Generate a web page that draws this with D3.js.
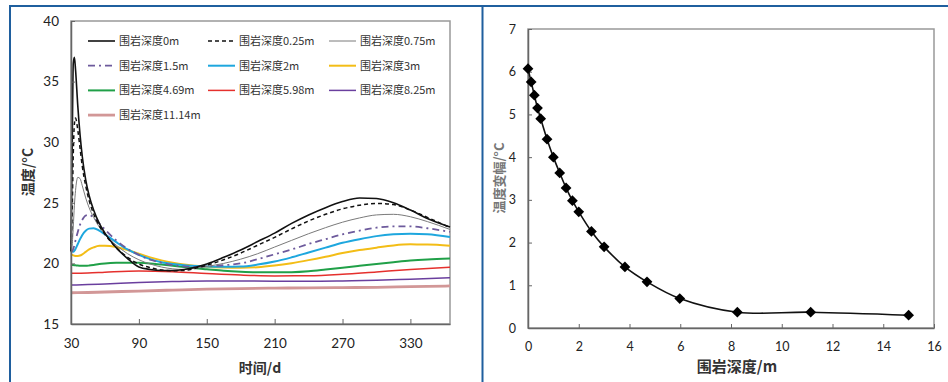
<!DOCTYPE html>
<html>
<head>
<meta charset="utf-8">
<script src="https://cdn.jsdelivr.net/npm/d3@7"></script>
<style>
  body { margin: 0; background: #fff; }
  svg { display: block; }
  .tick text { font-family: Lato, "Noto Sans", sans-serif; fill: #222; }
  .title { font-family: "Noto Sans CJK SC", sans-serif; font-weight: bold; }
  .legend text { font-family: "Noto Sans CJK SC", sans-serif; fill: #333; }
</style>
</head>
<body>
<div id="chart"></div>
<script>
// left chart: temperature vs time for each depth
const days = [30, 31, 32, 33, 34, 36, 38, 40, 43, 46, 50, 55, 60, 70, 80, 90, 100, 110, 120,
  130, 140, 150, 165, 180, 195, 210, 225, 240, 255, 270, 285, 300, 315, 330, 345, 365];
const t0 = [21.0, 29.0, 36.5, 37.0, 36.0, 33.0, 30.6, 28.8, 26.9, 25.6, 24.4, 23.3, 22.5, 21.3, 20.4,
  19.7, 19.5, 19.42, 19.42, 19.5, 19.68, 19.95, 20.5, 21.1, 21.8, 22.5, 23.3, 24.0, 24.6, 25.1,
  25.4, 25.35, 25.0, 24.4, 23.7, 23.0];
const t025 = [21.0, 24.0, 29.0, 31.5, 32.0, 31.0, 29.5, 28.0, 26.4, 25.2, 24.1, 23.1, 22.4, 21.3, 20.5,
  19.95, 19.65, 19.45, 19.4, 19.42, 19.6, 19.85, 20.3, 20.85, 21.5, 22.15, 22.85, 23.5, 24.05, 24.5,
  24.8, 24.95, 24.85, 24.4, 23.8, 22.95];
const t075 = [21.0, 21.5, 23.0, 24.8, 26.0, 27.1, 27.0, 26.4, 25.4, 24.6, 23.8, 23.0, 22.4, 21.5, 20.8,
  20.3, 19.95, 19.7, 19.55, 19.5, 19.6, 19.75, 20.0, 20.35, 20.8, 21.35, 21.9, 22.45, 22.95, 23.4,
  23.75, 24.0, 24.05, 23.85, 23.45, 22.8];
const t15 = [21.0, 21.0, 21.2, 21.5, 21.9, 22.6, 23.2, 23.6, 23.95, 24.0, 23.8, 23.3, 22.8, 21.9, 21.2,
  20.7, 20.3, 20.05, 19.85, 19.75, 19.72, 19.78, 19.85, 20.0, 20.35, 20.75, 21.15, 21.6, 22.0, 22.4,
  22.7, 22.95, 23.05, 23.05, 22.9, 22.6];
const t2 = [21.05, 20.98, 20.97, 21.05, 21.2, 21.6, 22.0, 22.35, 22.7, 22.87, 22.9, 22.7, 22.4, 21.75, 21.15,
  20.7, 20.35, 20.1, 19.95, 19.85, 19.78, 19.74, 19.72, 19.74, 19.9, 20.15, 20.5, 20.9, 21.3, 21.7,
  22.0, 22.25, 22.4, 22.45, 22.4, 22.18];
const t3 = [20.75, 20.7, 20.66, 20.63, 20.62, 20.62, 20.65, 20.75, 20.95, 21.15, 21.32, 21.45, 21.46, 21.35, 21.1,
  20.8, 20.5, 20.25, 20.05, 19.9, 19.8, 19.72, 19.66, 19.64, 19.68, 19.82, 20.02, 20.27, 20.55, 20.85,
  21.1, 21.3, 21.48, 21.57, 21.56, 21.46];
const t469 = [19.9, 19.88, 19.86, 19.85, 19.84, 19.82, 19.81, 19.8, 19.8, 19.82, 19.87, 19.95, 20.0, 20.05, 20.06,
  20.05, 20.0, 19.9, 19.8, 19.7, 19.6, 19.52, 19.4, 19.32, 19.27, 19.26, 19.28, 19.36, 19.5, 19.65,
  19.8, 19.95, 20.1, 20.24, 20.33, 20.4];
const daysDeep = [30, 45, 60, 90, 120, 150, 180, 210, 240, 270, 300, 330, 365];
const t598 = [19.18, 19.2, 19.27, 19.38, 19.32, 19.17, 19.04, 18.97, 18.98, 19.1, 19.3, 19.5, 19.68];
const t825 = [18.22, 18.25, 18.3, 18.42, 18.5, 18.55, 18.55, 18.53, 18.52, 18.55, 18.6, 18.7, 18.82];
const t1114 = [17.58, 17.6, 17.64, 17.72, 17.8, 17.87, 17.92, 17.96, 17.98, 18.0, 18.03, 18.08, 18.14];
const seriesNames = ["围岩深度0m", "围岩深度0.25m", "围岩深度0.75m", "围岩深度1.5m", "围岩深度2m",
  "围岩深度3m", "围岩深度4.69m", "围岩深度5.98m", "围岩深度8.25m", "围岩深度11.14m"];
const timeTicks = [30, 90, 150, 210, 270, 330];
const tempTicks = [15, 20, 25, 30, 35, 40];

// right chart: amplitude vs depth
const depths = [0, 0.125, 0.25, 0.375, 0.5, 0.75, 1.0, 1.25, 1.5, 1.75, 2.0, 2.5, 3.0, 3.82, 4.69, 5.98, 8.25, 11.14, 15];
const amplitude = [6.07, 5.76, 5.45, 5.15, 4.9, 4.42, 4.0, 3.63, 3.28, 2.98, 2.72, 2.26, 1.9, 1.43, 1.08, 0.69, 0.37, 0.37, 0.3];
const depthTicks = [0, 2, 4, 6, 8, 10, 12, 14, 16];
const ampTicks = [0, 1, 2, 3, 4, 5, 6, 7];

const W = 948, H = 382;
const svg = d3.select("#chart").append("svg").attr("width", W).attr("height", H);

// line styles per series (same order as seriesNames)
const styles = [
  { color: "#111", width: 1.6, dash: null },
  { color: "#111", width: 1.5, dash: "4,3" },
  { color: "#7a7a7a", width: 1, dash: null },
  { color: "#6d5a9c", width: 1.8, dash: "7,4,2,4" },
  { color: "#1ea7de", width: 2, dash: null },
  { color: "#f3bd16", width: 2, dash: null },
  { color: "#20a048", width: 2, dash: null },
  { color: "#e5302d", width: 1.5, dash: null },
  { color: "#6a3f9e", width: 1.5, dash: null },
  { color: "#d29797", width: 2.8, dash: null }
];
const seriesX = [days, days, days, days, days, days, days, daysDeep, daysDeep, daysDeep];
const seriesY = [t0, t025, t075, t15, t2, t3, t469, t598, t825, t1114];

// ---- Left chart ----
const L = { left: 71, right: 450, top: 21, bottom: 324 };
const x1 = d3.scaleLinear().domain([30, 365]).range([L.left, L.right]);
const y1 = d3.scaleLinear().domain([15, 40]).range([L.bottom, L.top]);

const g1 = svg.append("g");
g1.append("rect")
  .attr("x", L.left).attr("y", L.top)
  .attr("width", L.right - L.left).attr("height", L.bottom - L.top)
  .attr("fill", "none").attr("stroke", "#999").attr("stroke-width", 1.5);

const line1 = d3.line().curve(d3.curveMonotoneX);
seriesY.slice().reverse().forEach((vals, ri) => {
  const i = seriesY.length - 1 - ri;
  const pts = vals.map((v, k) => [x1(seriesX[i][k]), y1(v)]);
  g1.append("path")
    .attr("d", line1(pts))
    .attr("fill", "none")
    .attr("stroke", styles[i].color)
    .attr("stroke-width", styles[i].width)
    .attr("stroke-dasharray", styles[i].dash);
});

g1.append("g")
  .attr("transform", `translate(0,${L.bottom})`)
  .call(d3.axisBottom(x1).tickValues(timeTicks).tickSizeInner(-5).tickSizeOuter(0).tickPadding(14))
  .call(a => a.select(".domain").attr("stroke", "#666").attr("stroke-width", 1.5))
  .call(a => a.selectAll(".tick line").attr("stroke", "#666"))
  .call(a => a.selectAll(".tick text").attr("font-size", 13.5));
g1.append("g")
  .attr("transform", `translate(${L.left},0)`)
  .call(d3.axisLeft(y1).tickValues(tempTicks).tickSizeInner(-4).tickSizeOuter(0).tickPadding(12))
  .call(a => a.select(".domain").attr("stroke", "#666").attr("stroke-width", 1.5))
  .call(a => a.selectAll(".tick line").attr("stroke", "#666"))
  .call(a => a.selectAll(".tick text").attr("font-size", 13.5));

g1.append("text").attr("class", "title")
  .attr("transform", "translate(33,172) rotate(-90)")
  .attr("text-anchor", "middle").attr("font-size", 14).attr("fill", "#333")
  .text("温度/°C");
g1.append("text").attr("class", "title")
  .attr("x", 260).attr("y", 373)
  .attr("text-anchor", "middle").attr("font-size", 14).attr("fill", "#333")
  .text("时间/d");

// legend: 3 columns inside the plot
const legend = g1.append("g").attr("class", "legend");
const colX = [88, 208, 329];
seriesNames.forEach((name, i) => {
  const cx = colX[i % 3], cy = 41 + Math.floor(i / 3) * 24.7;
  legend.append("line")
    .attr("x1", cx).attr("x2", cx + 27).attr("y1", cy).attr("y2", cy)
    .attr("stroke", styles[i].color)
    .attr("stroke-width", styles[i].width)
    .attr("stroke-dasharray", styles[i].dash);
  legend.append("text")
    .attr("x", cx + 31).attr("y", cy + 4)
    .attr("font-size", 11)
    .text(name);
});

// ---- Right chart ----
const R = { left: 528, right: 934, top: 29, bottom: 328 };
const x2 = d3.scaleLinear().domain([0, 16]).range([R.left, R.right]);
const y2 = d3.scaleLinear().domain([0, 7]).range([R.bottom, R.top]);

const g2 = svg.append("g");
g2.append("rect")
  .attr("x", R.left).attr("y", R.top)
  .attr("width", R.right - R.left).attr("height", R.bottom - R.top)
  .attr("fill", "none").attr("stroke", "#999").attr("stroke-width", 1.5);

g2.append("g")
  .attr("transform", `translate(0,${R.bottom})`)
  .call(d3.axisBottom(x2).tickValues(depthTicks).tickFormat(d3.format("d"))
    .tickSizeInner(-4).tickSizeOuter(0).tickPadding(14))
  .call(a => a.select(".domain").attr("stroke", "#666").attr("stroke-width", 1.5))
  .call(a => a.selectAll(".tick line").attr("stroke", "#666"))
  .call(a => a.selectAll(".tick text").attr("font-size", 12.5));
g2.append("g")
  .attr("transform", `translate(${R.left},0)`)
  .call(d3.axisLeft(y2).tickValues(ampTicks).tickFormat(d3.format("d"))
    .tickSizeInner(-4).tickSizeOuter(0).tickPadding(12))
  .call(a => a.select(".domain").attr("stroke", "#666").attr("stroke-width", 1.5))
  .call(a => a.selectAll(".tick line").attr("stroke", "#666"))
  .call(a => a.selectAll(".tick text").attr("font-size", 12.5));

const line2 = d3.line().curve(d3.curveCatmullRom.alpha(0.5))
  .x((d, i) => x2(depths[i])).y(d => y2(d));
g2.append("path")
  .attr("d", line2(amplitude))
  .attr("fill", "none").attr("stroke", "#111").attr("stroke-width", 1.6);

g2.selectAll(".pt")
  .data(amplitude)
  .join("path")
  .attr("class", "pt")
  .attr("transform", (d, i) => `translate(${x2(depths[i])},${y2(d)}) rotate(45)`)
  .attr("d", d3.symbol(d3.symbolSquare, 58))
  .attr("fill", "#000");

g2.append("text").attr("class", "title")
  .attr("transform", "translate(504,178) rotate(-90)")
  .attr("text-anchor", "middle").attr("font-size", 13).attr("fill", "#777")
  .text("温度变幅/°C");
g2.append("text").attr("class", "title")
  .attr("x", 737).attr("y", 372)
  .attr("text-anchor", "middle").attr("font-size", 15).attr("fill", "#333")
  .text("围岩深度/m");

// blue panel frame
const frame = svg.append("g").attr("stroke", "#1f5f9e").attr("stroke-width", 2);
frame.append("line").attr("x1", 9).attr("x2", W).attr("y1", 6).attr("y2", 6);
frame.append("line").attr("x1", 10).attr("x2", 10).attr("y1", 5).attr("y2", H);
frame.append("line").attr("x1", 482.5).attr("x2", 482.5).attr("y1", 5).attr("y2", H);
</script>
</body>
</html>
